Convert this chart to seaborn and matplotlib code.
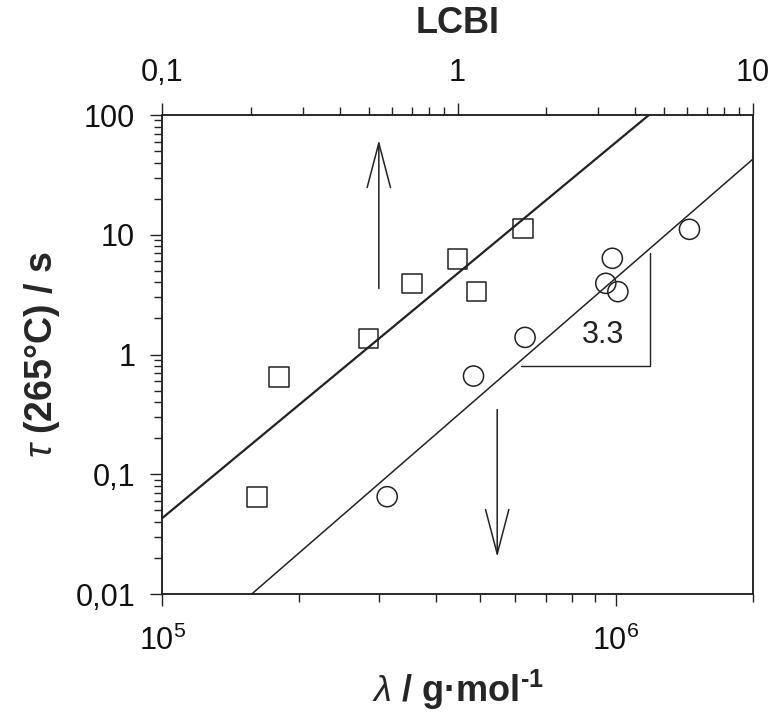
import numpy as np
import pandas as pd
import matplotlib
matplotlib.use('Agg')
import matplotlib.pyplot as plt
import seaborn as sns
from matplotlib.ticker import NullFormatter

# data
lcbi = [0.209, 0.249, 0.50, 0.70, 1.0, 1.16, 1.67]          # squares, top axis
tau_sq = [0.065, 0.653, 1.365, 3.93, 6.24, 3.35, 11.3]
lam = [3.13e5, 4.85e5, 6.30e5, 9.49e5, 9.81e5, 1.009e6, 1.451e6]  # circles, bottom axis
tau_ci = [0.065, 0.661, 1.39, 3.93, 6.36, 3.35, 11.1]

fit_lcbi_x = [0.1, 4.45]
fit_lcbi_y = [0.0431, 100]
fit_lam_x = [1.574e5, 2e6]
fit_lam_y = [0.01, 42.7]

tri_x = [6.18e5, 1.19e6, 1.19e6]
tri_y = [0.798, 0.798, 7.04]
slope_label = '3.3'

y_ticks = [0.01, 0.1, 1, 10, 100]
y_labels = ['0,01', '0,1', '1', '10', '100']
top_ticks = [0.1, 1, 10]
top_labels = ['0,1', '1', '10']

sns.set_style('ticks')
plt.rcParams['font.family'] = ['Liberation Sans', 'DejaVu Sans']
plt.rcParams['mathtext.fontset'] = 'custom'
plt.rcParams['mathtext.rm'] = 'Liberation Sans'
plt.rcParams['mathtext.it'] = 'Liberation Sans:italic'
plt.rcParams['mathtext.bf'] = 'Liberation Sans:bold'

ink = '#222222'
fig = plt.figure(figsize=(7.74, 7.17), dpi=100)
ax = fig.add_axes([0.2097, 0.1715, 0.7628, 0.6681])
ax.set_xscale('log')
ax.set_yscale('log')
ax.set_xlim(1e5, 2e6)
ax.set_ylim(0.01, 100)

ax2 = ax.twiny()
ax2.set_xscale('log')
ax2.set_xlim(0.1, 10)

sns.lineplot(x=fit_lam_x, y=fit_lam_y, ax=ax, color=ink, lw=1.1)
sns.lineplot(x=tri_x, y=tri_y, ax=ax, color=ink, lw=1.0, sort=False, estimator=None)
sns.scatterplot(x=lam, y=tau_ci, ax=ax, marker='o', s=210, facecolor='none',
                edgecolor=ink, linewidth=1.1, zorder=3)

sns.lineplot(x=fit_lcbi_x, y=fit_lcbi_y, ax=ax2, color=ink, lw=1.6)
sns.scatterplot(x=lcbi, y=tau_sq, ax=ax2, marker='s', s=200, facecolor='none',
                edgecolor=ink, linewidth=1.1, zorder=3)

ax.text(9.36e5, 1.455, slope_label, fontsize=22, color=ink, ha='center', va='center')

arrow = dict(arrowstyle='->,head_length=1.6,head_width=0.42', color=ink, lw=1.1,
             shrinkA=0, shrinkB=0, mutation_scale=20)
ax.annotate('', xy=(3.0e5, 61.8), xytext=(3.0e5, 3.56), arrowprops=arrow)
ax.annotate('', xy=(5.47e5, 0.0204), xytext=(5.47e5, 0.347), arrowprops=arrow)

ax.set_yticks(y_ticks)
ax.set_yticklabels(y_labels)
ax.xaxis.set_minor_formatter(NullFormatter())
ax.yaxis.set_minor_formatter(NullFormatter())
ax2.set_xticks(top_ticks)
ax2.set_xticklabels(top_labels)
ax2.xaxis.set_minor_formatter(NullFormatter())

for a in (ax, ax2):
    a.tick_params(which='major', direction='out', length=8.5, width=1.0, color=ink,
                  labelsize=22, pad=11, labelcolor='#111111')
    a.tick_params(which='minor', direction='out', length=5.5, width=1.0, color=ink)
    for s in a.spines.values():
        s.set_visible(True)
        s.set_linewidth(1.1)
        s.set_color(ink)
ax.tick_params(axis='y', which='both', right=False)
ax.tick_params(axis='x', which='both', top=False)
ax.tick_params(axis='x', which='major', pad=14)

ax.set_xlabel('$\\lambda$ / g·mol$^{\\mathbf{\u2010 1}}$', fontsize=26, fontweight='bold', labelpad=8)
ax.set_ylabel(r'$\tau$ (265°C) / s', fontsize=27, fontweight='bold', labelpad=10)
ax2.set_xlabel('LCBI', fontsize=26, fontweight='bold', labelpad=18)

fig.savefig('out.png', dpi=100)
